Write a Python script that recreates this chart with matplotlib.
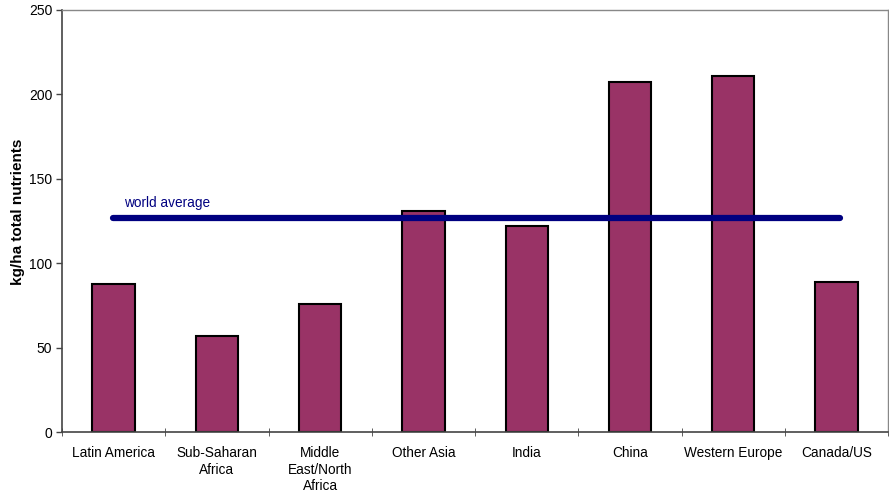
import matplotlib
matplotlib.use("Agg")
import matplotlib.pyplot as plt
import numpy as np

plt.rcParams['font.family'] = ['Liberation Sans', 'DejaVu Sans']

categories = ["Latin America", "Sub-Saharan\nAfrica", "Middle\nEast/North\nAfrica",
              "Other Asia", "India", "China", "Western Europe", "Canada/US"]
values = [87.5, 57, 76, 131, 122, 207, 211, 89]
world_average = 127
ylabel = "kg/ha total nutrients"

fig = plt.figure(figsize=(8.89, 4.94), dpi=100)
ax = fig.add_axes([0.0697, 0.1255, 0.9293, 0.8545])

x = np.arange(len(categories))
ax.bar(x, values, width=0.41, color="#993366", edgecolor="black", linewidth=1.5, zorder=2)
ax.plot([x[0] - 0.01, x[-1] + 0.03], [world_average, world_average], color="#000080",
        linewidth=4.5, solid_capstyle="round", zorder=3)
ax.text(0.1, world_average + 4.5, "world average", color="#000080", fontsize=9.8,
        ha="left", va="bottom")

ax.set_xlim(-0.5, len(categories) - 0.5)
ax.set_ylim(0, 250)
ax.set_yticks([0, 50, 100, 150, 200, 250])
ax.set_xticks(x)
ax.set_xticklabels(categories, fontsize=9.8, linespacing=1.25)
ax.tick_params(axis="x", length=0, pad=10)
ax.set_xticks(np.arange(len(categories) + 1) - 0.5, minor=True)
ax.tick_params(axis="x", which="minor", length=6, direction="inout", color="#444444")
ax.tick_params(axis="y", labelsize=10, length=4, color="#444444", width=1, pad=3)
ax.set_ylabel(ylabel, fontsize=11, fontweight="bold", va="center")
ax.yaxis.set_label_coords(-0.053, 0.521)

for side in ["left", "bottom"]:
    ax.spines[side].set_color("#444444")
    ax.spines[side].set_linewidth(1.2)
for side in ["top", "right"]:
    ax.spines[side].set_color("#888888")
    ax.spines[side].set_linewidth(1.0)

fig.savefig("out.png", dpi=100)
